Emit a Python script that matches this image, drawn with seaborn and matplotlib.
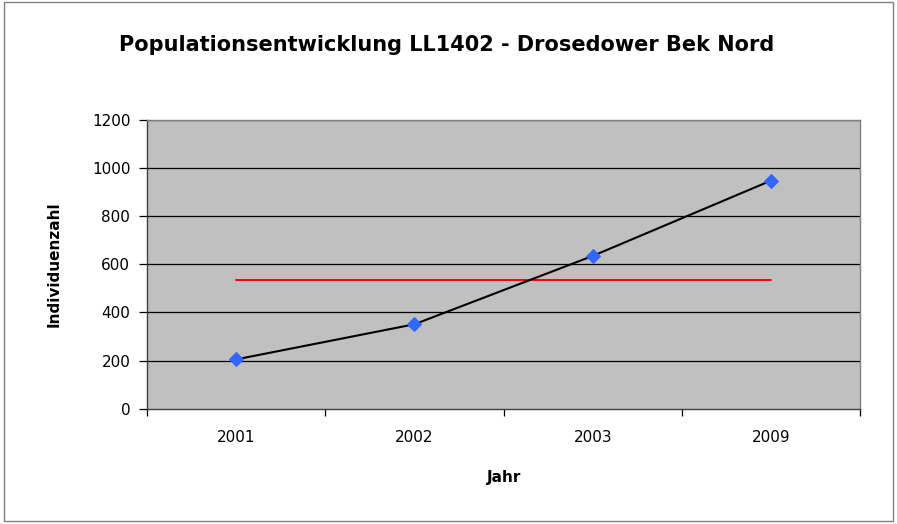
import numpy as np
import pandas as pd
import matplotlib
matplotlib.use("Agg")
import matplotlib.pyplot as plt
import seaborn as sns
from matplotlib.patches import Rectangle

years = ["2001", "2002", "2003", "2009"]
counts = [205, 351, 635, 948]
y_ticks = [0, 200, 400, 600, 800, 1000, 1200]

title = "Populationsentwicklung LL1402 - Drosedower Bek Nord"
xlabel = "Jahr"
ylabel = "Individuenzahl"

sns.set_theme(style="white")
plt.rcParams["font.family"] = ["DejaVu Sans"]
plt.rcParams["text.color"] = "black"
plt.rcParams["axes.labelcolor"] = "black"
plt.rcParams["xtick.color"] = "black"
plt.rcParams["ytick.color"] = "black"

df = pd.DataFrame({"pos": np.arange(len(years)), "year": years, "count": counts})
mean_val = float(np.mean(counts))
df_mean = pd.DataFrame({"pos": [0, len(years) - 1], "val": [mean_val, mean_val]})

fig = plt.figure(figsize=(8.97, 5.24), dpi=100)
fig.patch.set_facecolor("white")
fig.add_artist(Rectangle((0.004, 0.006), 0.992, 0.99, transform=fig.transFigure,
                         fill=False, edgecolor="#808080", linewidth=1.0))

ax = fig.add_axes([0.1639, 0.22, 0.795, 0.551])
ax.set_facecolor("#C0C0C0")

for yt in y_ticks[1:]:
    ax.axhline(yt, color="black", linewidth=0.9, zorder=1)

sns.lineplot(data=df_mean, x="pos", y="val", color="#FF0000", linewidth=1.4, ax=ax, zorder=2)
sns.lineplot(data=df, x="pos", y="count", color="black", linewidth=1.5, marker="D",
             markersize=7, markerfacecolor="#3366FF", markeredgecolor="#3366FF", ax=ax, zorder=3)

ax.set_xlim(-0.5, len(years) - 0.5)
ax.set_ylim(0, 1200)
ax.set_yticks(y_ticks)
ax.set_yticklabels([str(v) for v in y_ticks], fontsize=11, color="black")

ax.set_xticks(np.arange(-0.5, len(years)), minor=False)
ax.set_xticklabels([""] * (len(years) + 1))
ax.set_xticks(np.arange(len(years)), minor=True)
ax.set_xticklabels(years, minor=True, fontsize=11, color="black")
ax.tick_params(axis="x", which="major", direction="out", length=5, width=0.9, color="black", bottom=True)
ax.tick_params(axis="x", which="minor", length=0, pad=15)
ax.tick_params(axis="y", direction="out", length=6, width=0.9, color="black", left=True, pad=6)

for side in ["top", "right"]:
    ax.spines[side].set_color("#808080")
    ax.spines[side].set_linewidth(1.0)
for side in ["left", "bottom"]:
    ax.spines[side].set_color("#404040")
    ax.spines[side].set_linewidth(1.0)

ax.set_xlabel(xlabel, fontsize=11, fontweight="bold", labelpad=18, color="black")
ax.set_ylabel(ylabel, fontsize=11, fontweight="bold", labelpad=22, color="black")

fig.text(0.498, 0.914, title, ha="center", va="center", fontsize=15, fontweight="bold", color="black")

fig.savefig("out.png", dpi=100, facecolor="white")
